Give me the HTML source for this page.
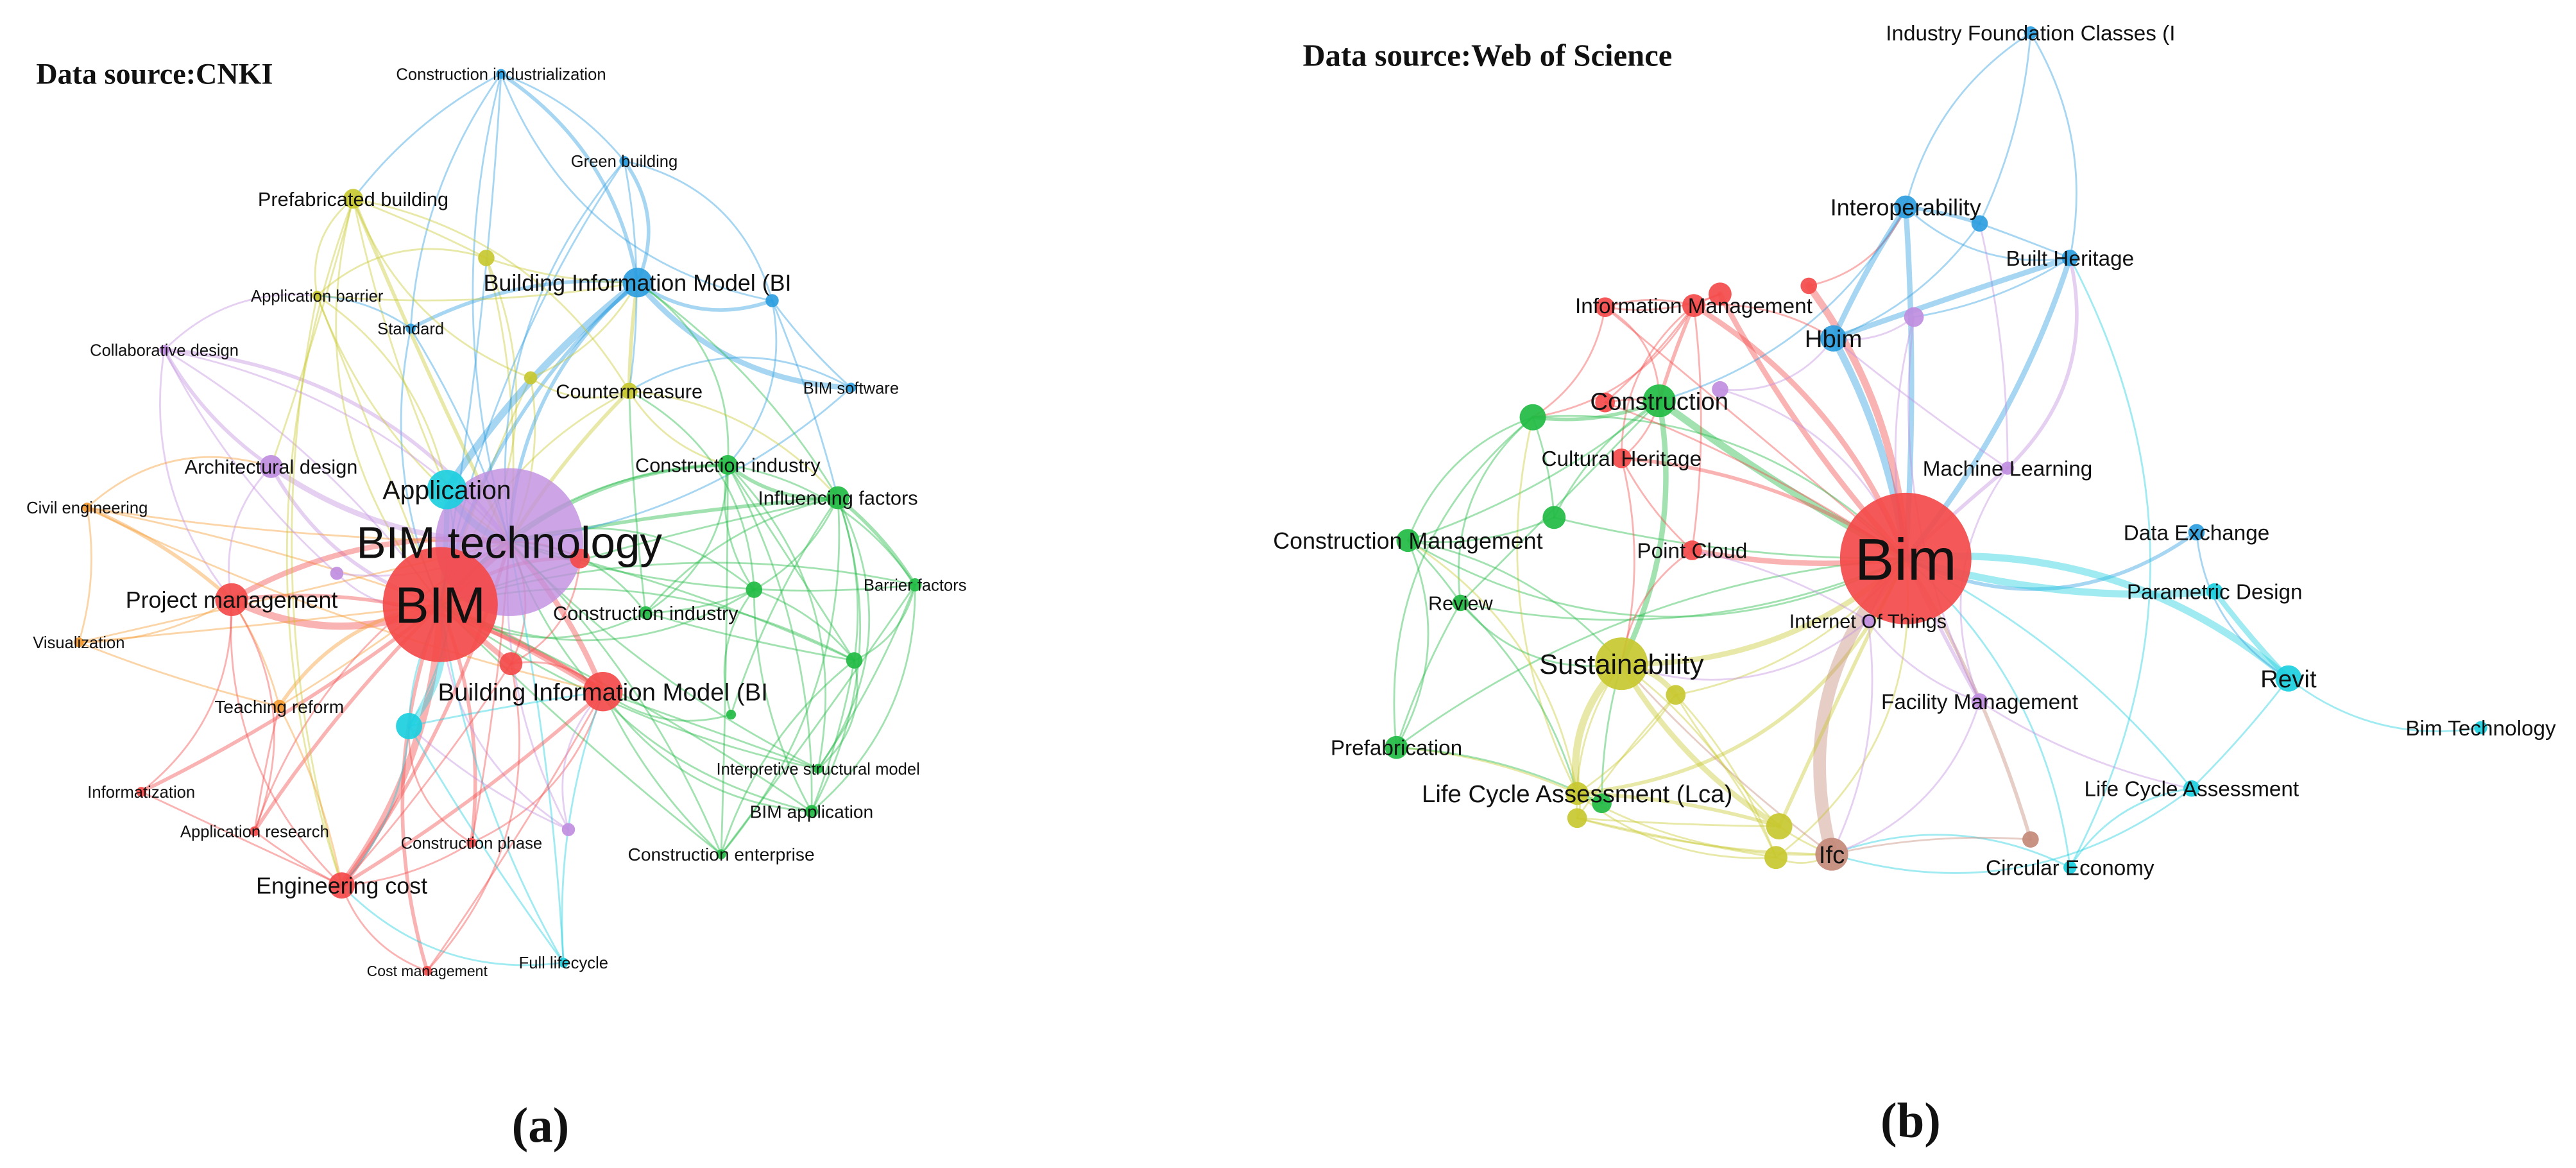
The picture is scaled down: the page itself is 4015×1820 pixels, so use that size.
<!DOCTYPE html>
<html><head><meta charset="utf-8"><style>
html,body{margin:0;padding:0;background:#fff;}
svg{display:block;}
text{font-family:"Liberation Sans",sans-serif;fill:#111;}
.t{font-family:"Liberation Serif",serif;font-weight:bold;}
</style></head><body>
<svg id="s" width="4015" height="1820" viewBox="0 0 1568 711" preserveAspectRatio="none" xmlns="http://www.w3.org/2000/svg">
<rect width="1568" height="711" fill="#fff"/>
<g id="e" fill="none" stroke-linecap="round"></g>
<g id="n"></g>
<g id="l"></g>
<text class="t" x="22" y="51" font-size="18">Data source:CNKI</text>
<text class="t" x="793" y="40" font-size="19">Data source:Web of Science</text>
<text class="t" x="329" y="695" font-size="30" text-anchor="middle">(a)</text>
<text class="t" x="1163" y="692" font-size="30" text-anchor="middle">(b)</text>
</svg>
<script>
var C={r:"#f44a4a",p:"#c08ee0",c:"#1ccfe0",b:"#2d9ee0",g:"#22bb44",y:"#c8c830",o:"#f59a30",w:"#c48a7a"};
var N={
bt:[310,330,45,"p","BIM technology",27],
bim:[268,368,35,"r","BIM",31],
app:[272,298,12,"c","Application",16],
bimT:[388,172,9,"b","Building Information Model (BI",14],
bimL:[367,421,12,"r","Building Information Model (BI",15],
pm:[141,365,10,"r","Project management",14],
ec:[208,539,8,"r","Engineering cost",14],
pb:[215,121,6,"y","Prefabricated building",12],
ci:[305,45,3,"b","Construction industrialization",10],
gb:[380,98,3,"b","Green building",10],
ab:[193,180,3,"y","Application barrier",10],
st:[250,200,3,"b","Standard",10],
cd:[100,213,3,"p","Collaborative design",10],
cm:[383,238,5,"y","Countermeasure",12],
bs:[518,236,3,"b","BIM software",10],
y1:[296,157,5,"y","",0],
y2:[323,230,4,"y","",0],
b1:[470,183,4,"b","",0],
ad:[165,284,7,"p","Architectural design",12],
cit:[443,283,6,"g","Construction industry",12],
inf:[510,303,7,"g","Influencing factors",12],
ce:[53,309,3,"o","Civil engineering",10],
p1:[205,349,4,"p","",0],
r1:[353,340,6,"r","",0],
g1:[459,359,5,"g","",0],
bf:[557,356,4,"g","Barrier factors",10],
cil:[393,373,4,"g","Construction industry",12],
vi:[48,391,3,"o","Visualization",10],
r2:[311,404,7,"r","",0],
g2:[520,402,5,"g","",0],
c1:[249,442,8,"c","",0],
tr:[170,430,4,"o","Teaching reform",11],
g3:[445,435,3,"g","",0],
ism:[498,468,3,"g","Interpretive structural model",10],
infz:[86,482,3,"r","Informatization",10],
ba:[494,494,4,"g","BIM application",11],
ar:[155,506,3,"r","Application research",10],
cph:[287,513,3,"r","Construction phase",10],
p2:[346,505,4,"p","",0],
cen:[439,520,3,"g","Construction enterprise",11],
cmg:[260,591,3,"r","Cost management",9],
fl:[343,586,3,"c","Full lifecycle",10],
ifc0:[1236,20,4,"b","Industry Foundation Classes (I",13],
io:[1160,126,7,"b","Interoperability",14],
B1:[1205,136,5,"b","",0],
bh:[1260,157,5,"b","Built Heritage",13],
im:[1031,186,7,"r","Information Management",13],
R1:[977,187,6,"r","",0],R2:[1047,179,7,"r","",0],R3:[1101,174,5,"r","",0],
hb:[1116,206,8,"b","Hbim",15],
P1:[1165,193,6,"p","",0],
con:[1010,244,10,"g","Construction",15],
G1:[933,254,8,"g","",0],P2:[1047,237,5,"p","",0],R4:[977,245,6,"r","",0],
ch:[987,279,6,"r","Cultural Heritage",13],
ml:[1222,285,4,"p","Machine Learning",13],
cmn:[857,329,7,"g","Construction Management",14],
G2:[946,315,7,"g","",0],
pc:[1030,335,6,"r","Point Cloud",13],
Bim:[1160,340,40,"r","Bim",36],
de:[1337,324,5,"b","Data Exchange",13],
pd:[1348,360,5,"c","Parametric Design",13],
rv:[889,367,5,"g","Review",12],
iot:[1137,378,4,"p","Internet Of Things",12],
su:[987,404,16,"y","Sustainability",17],
re:[1393,413,8,"c","Revit",15],
bt2:[1510,443,4,"c","Bim Technology",13],
Y1:[1020,423,6,"y","",0],
fm:[1205,427,5,"p","Facility Management",13],
pf:[850,455,7,"g","Prefabrication",13],
lca:[960,483,7,"y","Life Cycle Assessment (Lca)",15],
G3:[975,489,6,"g","",0],Y2:[960,498,6,"y","",0],
lc:[1334,480,5,"c","Life Cycle Assessment",13],
Y3:[1083,503,8,"y","",0],Y4:[1081,522,7,"y","",0],
ifc:[1115,520,10,"w","Ifc",15],
W1:[1236,511,5,"w","",0],
cec:[1260,528,4,"c","Circular Economy",13]
};
var E=[];
function add(a,list){list.split(" ").forEach(function(b){if(!b)return;var q=b.split(":");E.push([a,q[0],q[1]?+q[1]:1]);});}
add("bim","bt:5 app:3 pm:4 ec:4 bimL:4 r2:3 c1:3 tr:2 ar:2 infz:2 cph:2 cmg:2 fl pb ab st cd ad:2 ce vi r1:2 p1 p2 cil cit inf g1 g2 ba cen ism bf cm y1 y2 bimT:2 ci gb");
add("bt","app:4 pm:3 ec:2 bimL:3 r2 c1 ad:3 cd:2 pb:2 ab st cm:2 y2 y1 bimT:2 cit:2 inf:2 cil g1 g2 bf ism ba cen ce vi tr ar cph fl r1 p1 p2 gb ci bs");
add("bimT","ci:2 gb:2 b1:2 bs:3 st:2 app:4 cm:2 cit inf y1 y2 ab");
add("ci","pb st gb b1");
add("gb","b1 cm");
add("b1","bs inf cit");
add("pb","ab y1 y2 app ad cm ec");
add("ab","cd st y1 app ec");
add("cd","ad:2 p1 pm bt");
add("cm","cit inf g1 y2 bs cil");
add("cit","inf:2 g1 bf g2 cil ba cen ism");
add("inf","bf:2 g1 g2 cil ba cen ism g3");
add("bf","g2 ism ba cen");
add("g2","ba ism cen cil g1");
add("g1","cil g3 ba");
add("pm","ce:2 vi tr ad ec infz ar bimL:2");
add("ce","vi ad bimL");
add("tr","vi ec ar");
add("bimL","r2 c1 ec:2 cph ba cen ism g3 fl cmg p2");
add("ec","cmg ar infz cph c1 fl");
add("c1","fl cph p2 app");
add("r2","ec cmg r1");
add("Bim","io:3 hb:4 R2:3 R3:4 im:3 R1 con:4 G1 ch:2 cmn pc:3 ml:2 de:2 pd:4 re:4 iot su:3 Y1 fm:2 lc lca:2 ifc:7 Y3:2 Y4 W1:2 cec bh:3 rv pf P1 P2 R4 G2");
add("ifc0","io bh B1");
add("io","B1:2 bh hb:3 R3 con");
add("B1","bh hb ml");
add("bh","hb:3 P1 ml:2 cec");
add("im","R1 R2 con:2 ch G1 R4 hb pc");
add("R1","con G1 R2");
add("hb","P1 P2 ml");
add("con","G1:2 cmn ch G2 rv su:3 R4");
add("G1","cmn rv G2 pf lca");
add("cmn","rv pf su lca G2");
add("rv","pf su lca");
add("pf","lca G3");
add("su","Y1:3 lca:4 G3 Y2 Y3:3 Y4 ifc pc ch iot");
add("Y1","Y3 Y4 lca Y2");
add("lca","G3 Y2 Y3:2 Y4 ifc");
add("Y2","Y4 Y3 ifc");
add("ifc","Y3 Y4 cec W1 fm iot lc");
add("re","pd:3 bt2 lc de");
add("lc","cec fm");
add("fm","P1 iot ml");
add("pc","ch iot");
var ns="http://www.w3.org/2000/svg",ge=document.getElementById("e"),gn=document.getElementById("n"),gl=document.getElementById("l");
var seed=7;function rnd(){seed=(seed*9301+49297)%233280;return seed/233280;}
E.forEach(function(e){var a=N[e[0]],b=N[e[1]];if(!a||!b)return;
var mx=(a[0]+b[0])/2,my=(a[1]+b[1])/2,dx=b[0]-a[0],dy=b[1]-a[1];var k=(rnd()-0.5)*0.6;
var cx=mx-dy*k,cy=my+dx*k;
var p=document.createElementNS(ns,"path");
p.setAttribute("d","M"+a[0]+","+a[1]+" Q"+cx+","+cy+" "+b[0]+","+b[1]);
var big=a[2]>=b[2]?b:a;
p.setAttribute("stroke",C[big[3]]);p.setAttribute("stroke-opacity",0.42);
p.setAttribute("stroke-width",1.1*e[2]);ge.appendChild(p);});
Object.keys(N).forEach(function(k){var v=N[k];var c=document.createElementNS(ns,"circle");
c.setAttribute("cx",v[0]);c.setAttribute("cy",v[1]);c.setAttribute("r",v[2]);c.setAttribute("fill",C[v[3]]);
c.setAttribute("fill-opacity",k=="bt"?0.8:0.92);gn.appendChild(c);
if(v[4]){var t=document.createElementNS(ns,"text");t.setAttribute("x",v[0]);t.setAttribute("y",v[1]+v[5]*0.36);
t.setAttribute("text-anchor","middle");t.setAttribute("font-size",v[5]);t.textContent=v[4];gl.appendChild(t);}});
</script>
</body></html>
